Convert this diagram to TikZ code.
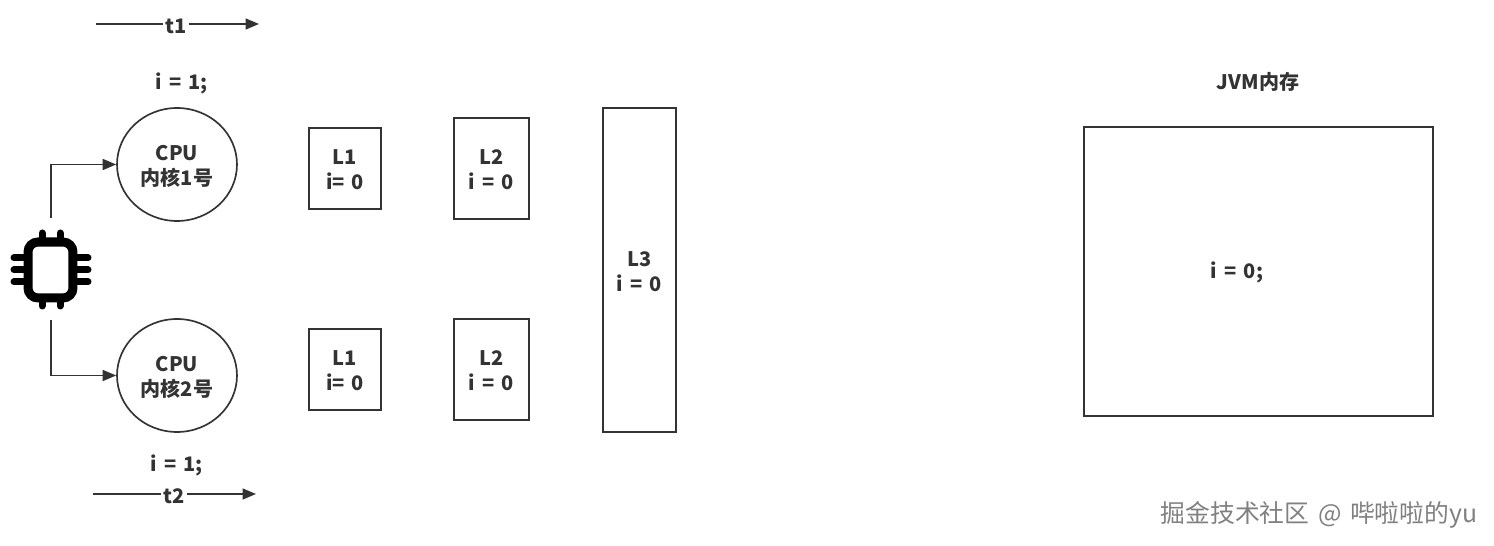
\documentclass[tikz,border=0pt]{standalone}
\usepackage{fontspec}
\setmainfont{Noto Sans CJK SC}[WordSpace=1.55]
\usetikzlibrary{arrows.meta}
\usetikzlibrary{shapes.geometric}
\definecolor{inkgray}{HTML}{333333}
\tikzset{
    every node/.style={text=inkgray, font=\fontsize{11.4}{14.2}\selectfont\bfseries, align=center, text depth=0pt},
    line/.style={draw=inkgray, line width=0.95pt},
    arrowline/.style={line, -{Triangle[length=0.27cm, width=0.22cm]}},
    cache/.style={line, minimum width=0, inner sep=0, text height=24.2pt},
    corecircle/.style={line, ellipse, minimum width=2.4cm, minimum height=2.26cm, inner sep=0, text height=24.2pt},
    pin/.style={line width=7*0.02cm, line cap=round, black}
}
\begin{document}
\begin{tikzpicture}[x=0.02cm, y=-0.02cm]
    \useasboundingbox (0,0) rectangle (1494,546);

    % chip icon
    \node[draw=black, line width=9*0.02cm, rounded corners=0.2cm, minimum width=0.9cm, minimum height=1.12cm, inner sep=0] (chip) at (50.5,270) {};
    \foreach \px in {42,60} {
        \draw[pin] (\px,233) -- (\px,240);
        \draw[pin] (\px,300) -- (\px,306);
    }
    \foreach \py in {258,270,282} {
        \draw[pin] (14,\py) -- (26,\py);
        \draw[pin] (75,\py) -- (88,\py);
    }

    % cores
    \node[corecircle] (core1) at (177,164.5) {CPU\\内核1号};
    \node[corecircle] (core2) at (177,375.5) {CPU\\内核2号};
    \coordinate (chiptop) at (51,218);
    \coordinate (chipbottom) at (51,320);
    \draw[arrowline] (chiptop) |- (core1.west);
    \draw[arrowline] (chipbottom) |- (core2.west);

    % threads
    \coordinate (t1start) at (96,24);
    \coordinate (t1end) at (259,24);
    \node[inner xsep=1pt, inner ysep=0pt] (t1) at (176,26.5) {t1};
    \draw[line] (t1start) -- (t1start -| t1.west);
    \draw[arrowline] (t1end -| t1.east) -- (t1end);
    \coordinate (t2start) at (93,494);
    \coordinate (t2end) at (256,494);
    \node[inner xsep=1pt, inner ysep=0pt] (t2) at (174,496) {t2};
    \draw[line] (t2start) -- (t2start -| t2.west);
    \draw[arrowline] (t2end -| t2.east) -- (t2end);
    \node (val1) at (182,81) {i = 1;};
    \node (val2) at (177,463.5) {i = 1;};

    % caches
    \node[cache, minimum width=1.44cm, minimum height=1.62cm] (l1a) at (345,168.5) {L1\\i= 0};
    \node[cache, minimum width=1.44cm, minimum height=1.62cm] (l1b) at (345,369.5) {L1\\i= 0};
    \node[cache, minimum width=1.5cm, minimum height=2.02cm] (l2a) at (491.5,168.5) {L2\\i = 0};
    \node[cache, minimum width=1.5cm, minimum height=2.02cm] (l2b) at (491.5,369.5) {L2\\i = 0};
    \node[cache, minimum width=1.46cm, minimum height=6.48cm] (l3) at (639.5,270) {L3\\i = 0};

    % memory
    \node[cache, minimum width=6.98cm, minimum height=5.78cm] (jvm) at (1258.5,271.5) {};
    \node (jvmtitle) at (1258,81) {JVM内存};
    \node (jvmval) at (1237,270.5) {i = 0;};

    \node[font=\fontsize{14.1}{17}\selectfont, text=gray] (mark) at (1319,512) {掘金技术社区 @ 哔啦啦的yu};
\end{tikzpicture}
\end{document}
